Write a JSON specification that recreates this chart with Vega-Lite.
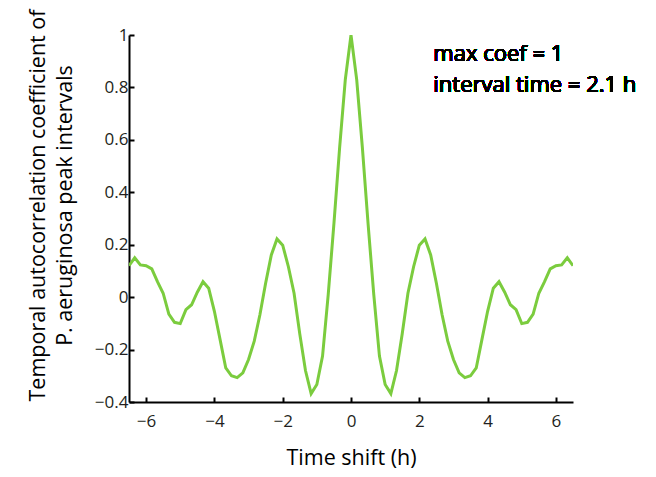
{
  "$schema": "https://vega.github.io/schema/vega-lite/v6.json",
  "autosize": {"type": "none"},
  "padding": {"left": 129, "top": 35, "right": 83, "bottom": 75},
  "width": 444,
  "height": 367,
  "background": "white",
  "config": {
    "view": {"stroke": null},
    "font": "Open Sans",
    "axis": {
      "grid": false,
      "domainColor": "black",
      "domainWidth": 2,
      "tickColor": "black",
      "tickWidth": 2,
      "tickSize": -5,
      "labelFont": "Open Sans",
      "labelFontSize": 17,
      "labelColor": "#231f20",
      "titleFont": "Open Sans",
      "titleFontSize": 21.5,
      "titleFontWeight": "normal",
      "titleColor": "black"
    }
  },
  "data": {
    "values": [
      {"t": -6.5, "r": 0.12}, {"t": -6.333, "r": 0.15}, {"t": -6.167, "r": 0.123}, {"t": -6.0, "r": 0.12},
      {"t": -5.833, "r": 0.108}, {"t": -5.667, "r": 0.059}, {"t": -5.5, "r": 0.015}, {"t": -5.333, "r": -0.065},
      {"t": -5.167, "r": -0.096}, {"t": -5.0, "r": -0.101}, {"t": -4.833, "r": -0.048}, {"t": -4.667, "r": -0.029},
      {"t": -4.5, "r": 0.019}, {"t": -4.333, "r": 0.059}, {"t": -4.167, "r": 0.034}, {"t": -4.0, "r": -0.054},
      {"t": -3.833, "r": -0.162}, {"t": -3.667, "r": -0.27}, {"t": -3.5, "r": -0.3}, {"t": -3.333, "r": -0.307},
      {"t": -3.167, "r": -0.289}, {"t": -3.0, "r": -0.238}, {"t": -2.833, "r": -0.168}, {"t": -2.667, "r": -0.067},
      {"t": -2.5, "r": 0.053}, {"t": -2.333, "r": 0.161}, {"t": -2.167, "r": 0.222}, {"t": -2.0, "r": 0.198},
      {"t": -1.833, "r": 0.116}, {"t": -1.667, "r": 0.015}, {"t": -1.5, "r": -0.14}, {"t": -1.333, "r": -0.28},
      {"t": -1.167, "r": -0.368}, {"t": -1.0, "r": -0.333}, {"t": -0.833, "r": -0.225}, {"t": -0.667, "r": 0.01},
      {"t": -0.5, "r": 0.28}, {"t": -0.333, "r": 0.57}, {"t": -0.167, "r": 0.83}, {"t": 0.0, "r": 1.0},
      {"t": 0.167, "r": 0.83}, {"t": 0.333, "r": 0.57}, {"t": 0.5, "r": 0.28}, {"t": 0.667, "r": 0.01},
      {"t": 0.833, "r": -0.225}, {"t": 1.0, "r": -0.333}, {"t": 1.167, "r": -0.368}, {"t": 1.333, "r": -0.28},
      {"t": 1.5, "r": -0.14}, {"t": 1.667, "r": 0.015}, {"t": 1.833, "r": 0.116}, {"t": 2.0, "r": 0.198},
      {"t": 2.167, "r": 0.222}, {"t": 2.333, "r": 0.161}, {"t": 2.5, "r": 0.053}, {"t": 2.667, "r": -0.067},
      {"t": 2.833, "r": -0.168}, {"t": 3.0, "r": -0.238}, {"t": 3.167, "r": -0.289}, {"t": 3.333, "r": -0.307},
      {"t": 3.5, "r": -0.3}, {"t": 3.667, "r": -0.27}, {"t": 3.833, "r": -0.162}, {"t": 4.0, "r": -0.054},
      {"t": 4.167, "r": 0.034}, {"t": 4.333, "r": 0.059}, {"t": 4.5, "r": 0.019}, {"t": 4.667, "r": -0.029},
      {"t": 4.833, "r": -0.048}, {"t": 5.0, "r": -0.101}, {"t": 5.167, "r": -0.096}, {"t": 5.333, "r": -0.065},
      {"t": 5.5, "r": 0.015}, {"t": 5.667, "r": 0.059}, {"t": 5.833, "r": 0.108}, {"t": 6.0, "r": 0.12},
      {"t": 6.167, "r": 0.123}, {"t": 6.333, "r": 0.15}, {"t": 6.5, "r": 0.12}
    ]
  },
  "layer": [
    {
      "mark": {"type": "line", "color": "#7bcc3e", "strokeWidth": 3, "clip": true},
      "encoding": {
        "x": {
          "field": "t", "type": "quantitative",
          "scale": {"domain": [-6.5, 6.5], "nice": false, "zero": false},
          "axis": {"values": [-6, -4, -2, 0, 2, 4, 6], "title": "Time shift (h)", "labelPadding": 16, "titleY": 56, "titleBaseline": "middle"}
        },
        "y": {
          "field": "r", "type": "quantitative",
          "scale": {"domain": [-0.4, 1], "nice": false, "zero": false},
          "axis": {
            "values": [-0.4, -0.2, 0, 0.2, 0.4, 0.6, 0.8, 1],
            "format": "~g",
            "title": ["Temporal autocorrelation coefficient of", "P. aeruginosa peak intervals"],
            "titleX": -91,
            "titleY": 170,
            "titleBaseline": "middle",
            "titleLineHeight": 27,
            "labelAlign": "right",
            "labelPadding": 6
          }
        }
      }
    },
    {
      "mark": {"type": "text", "align": "left", "baseline": "alphabetic", "fontSize": 22, "fontWeight": 400, "font": "Open Sans", "lineHeight": 31, "fill": "black"},
      "encoding": {
        "x": {"datum": 2.41},
        "y": {"datum": 0.902},
        "text": {"value": ["max coef = 1", "interval time = 2.1 h"]}
      }
    }
  ]
}
